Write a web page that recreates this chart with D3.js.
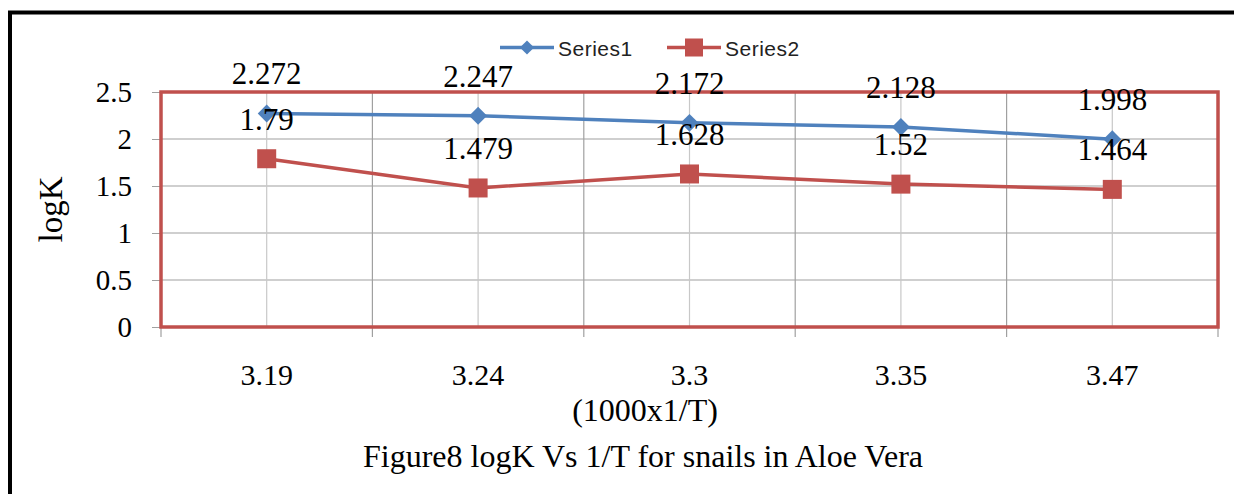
<!DOCTYPE html>
<html><head><meta charset="utf-8">
<script src="https://cdn.jsdelivr.net/npm/d3@7"></script>
<style>body{margin:0;background:#fff}svg{display:block}</style>
</head><body>
<svg id="c" width="1234" height="494"></svg>
<script>
const categories = ["3.19","3.24","3.3","3.35","3.47"];
const series1 = [2.272,2.247,2.172,2.128,1.998];
const series2 = [1.79,1.479,1.628,1.52,1.464];
const seriesNames = ["Series1","Series2"];
const yTicks = [0,0.5,1,1.5,2,2.5];
const yTitle = "logK";
const xTitle = "(1000x1/T)";
const caption = "Figure8 logK Vs 1/T for snails in Aloe Vera";

const svg = d3.select("#c");
const W=1234,H=494;
const L=161,R=1218,T=92,B=327;
const serif="'Liberation Serif','Times New Roman',serif";
const blue="#4F81BD", red="#C0504D";

const x=d3.scaleBand().domain(categories).range([L,R]).padding(0);
const y=d3.scaleLinear().domain([0,2.5]).range([B,T]);
const cx=c=>x(c)+x.bandwidth()/2;

// outer border
svg.append("path").attr("d",`M10,${H} L10,12.5 L${W},12.5`).attr("fill","none").attr("stroke","#000").attr("stroke-width",4);

// grid
const g=svg.append("g");
g.selectAll(".hg").data(yTicks).join("line")
 .attr("x1",L).attr("x2",R).attr("y1",d=>y(d)).attr("y2",d=>y(d))
 .attr("stroke","#a0a0a0").attr("stroke-width",1.2);
g.selectAll(".vc").data(categories).join("line")
 .attr("x1",d=>cx(d)).attr("x2",d=>cx(d)).attr("y1",T).attr("y2",B)
 .attr("stroke","#c8c8c8").attr("stroke-width",1.2);
const bounds=categories.map(c=>x(c)).concat([R]);
g.selectAll(".vb").data(bounds).join("line")
 .attr("x1",d=>d).attr("x2",d=>d).attr("y1",T).attr("y2",B+10)
 .attr("stroke","#a0a0a0").attr("stroke-width",1.2);

// y axis
const ya=d3.axisLeft(y).tickValues(yTicks).tickSize(9).tickFormat(d=>String(d));
const yg=svg.append("g").attr("transform",`translate(${L},0)`).call(ya);
yg.select(".domain").attr("stroke","#a0a0a0");
yg.selectAll(".tick line").attr("stroke","#a0a0a0");
yg.selectAll("text").attr("font-family",serif).attr("font-size",29).attr("fill","#000").attr("x",-29).attr("dy","0.33em");

// x tick labels
const xa=d3.axisBottom(x).tickSize(0).tickPadding(0);
const xg=svg.append("g").attr("transform",`translate(0,${B})`).call(xa);
xg.select(".domain").remove();
xg.selectAll("text").attr("font-family",serif).attr("font-size",30).attr("fill","#000").attr("y",58).attr("dy",0);

// plot frame
svg.append("rect").attr("x",L).attr("y",T).attr("width",R-L).attr("height",B-T)
 .attr("fill","none").attr("stroke",red).attr("stroke-width",3.5);

// lines
const line=d3.line().x((d,i)=>cx(categories[i])).y(d=>y(d));
svg.append("path").datum(series1).attr("d",line).attr("fill","none").attr("stroke",blue).attr("stroke-width",3.5);
svg.append("path").datum(series2).attr("d",line).attr("fill","none").attr("stroke",red).attr("stroke-width",3.5);

const diamond=d3.symbol().type(d3.symbolSquare).size(160);
svg.selectAll(".m1").data(series1).join("path")
 .attr("d",diamond).attr("transform",(d,i)=>`translate(${cx(categories[i])},${y(d)}) rotate(45)`).attr("fill",blue);
svg.selectAll(".m2").data(series2).join("rect")
 .attr("x",(d,i)=>cx(categories[i])-9.5).attr("y",d=>y(d)-9.5).attr("width",19).attr("height",19).attr("fill",red);

// data labels
const lab=(data)=>svg.append("g").selectAll("text").data(data).join("text")
 .attr("x",(d,i)=>cx(categories[i])).attr("y",d=>y(d)-29).attr("text-anchor","middle")
 .attr("font-family",serif).attr("font-size",31).attr("fill","#000").text(d=>String(d));
lab(series1); lab(series2);

// legend
const leg=svg.append("g").attr("font-family","'Liberation Sans',Arial,sans-serif").attr("font-size",21).attr("letter-spacing",0.5).attr("fill","#222");
const legItems=[{n:seriesNames[0],c:blue,x0:500},{n:seriesNames[1],c:red,x0:667}];
legItems.forEach((it,k)=>{
  leg.append("line").attr("x1",it.x0).attr("x2",it.x0+54).attr("y1",47.5).attr("y2",47.5).attr("stroke",it.c).attr("stroke-width",3.5);
  if(k===0) leg.append("path").attr("d",d3.symbol().type(d3.symbolSquare).size(100)).attr("transform",`translate(${it.x0+27},47.5) rotate(45)`).attr("fill",it.c);
  else leg.append("rect").attr("x",it.x0+27-9).attr("y",38.5).attr("width",18).attr("height",18).attr("fill",it.c);
  leg.append("text").attr("x",it.x0+58).attr("y",55.5).text(it.n);
});

// axis titles and caption
svg.append("text").attr("transform",`translate(62,${(T+B)/2}) rotate(-90)`).attr("text-anchor","middle")
 .attr("font-family",serif).attr("font-size",33).text(yTitle);
svg.append("text").attr("x",645).attr("y",421).attr("text-anchor","middle")
 .attr("font-family",serif).attr("font-size",32).text(xTitle);
svg.append("text").attr("x",643).attr("y",467).attr("text-anchor","middle")
 .attr("font-family",serif).attr("font-size",32).text(caption);
</script>
</body></html>
